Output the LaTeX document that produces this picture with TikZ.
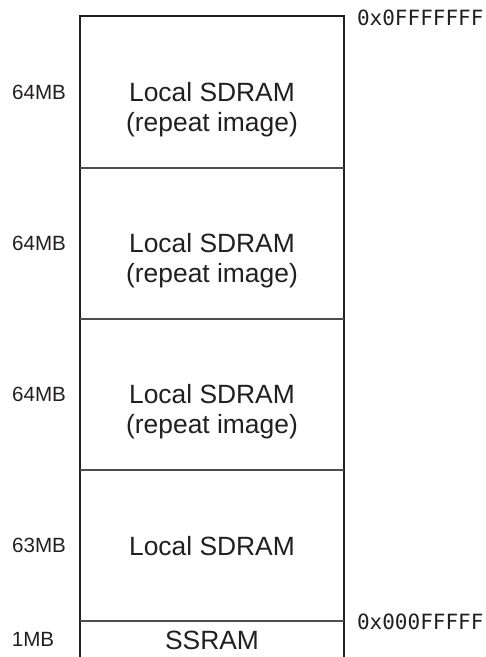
\documentclass[tikz,border=0pt]{standalone}
\usepackage{fontspec}
\setmainfont{Liberation Sans}
\newfontfamily\addrfont{DejaVu Sans Mono}
\definecolor{inkgray}{RGB}{35,31,32}
\usepackage{tikz}

\begin{document}
\begin{tikzpicture}[x=0.5pt, y=-0.5pt, inkgray,
    frame/.style={line width=1pt},
    divider/.style={line width=0.6pt, inkgray!80},
    region/.style={align=center, font=\fontsize{13.2}{15}\selectfont},
    sizelbl/.style={font=\fontsize{10.3}{12}\selectfont},
    addr/.style={anchor=west, font=\addrfont\fontsize{10.5}{12}\selectfont}]
          \useasboundingbox (0,0) rectangle (486,657);
          % outer frame, open at the bottom
          \draw[frame] (80,657) -- (80,16) -- (344,16) -- (344,657);
          \foreach \y in {168,319,470,621}
            \draw[divider] (80,\y) -- (344,\y);
          % region texts
          \node[region] (sd1) at (212,110) {Local SDRAM\\(repeat image)};
          \node[region] (sd2) at (212,261) {Local SDRAM\\(repeat image)};
          \node[region] (sd3) at (212,412) {Local SDRAM\\(repeat image)};
          \node[region] (sd4) at (212,546) {Local SDRAM};
          \node[region] (ss) at (212,640) {SSRAM};
          % sizes
          \node[sizelbl] (mb1) at (39,92) {64MB};
          \node[sizelbl] (mb2) at (39,243) {64MB};
          \node[sizelbl] (mb3) at (39,394) {64MB};
          \node[sizelbl] (mb4) at (39,545) {63MB};
          \node[sizelbl] (mb5) at (33,639) {1MB};
          % addresses
          \node[addr] (top) at (350,18) {0x0FFFFFFF};
          \node[addr] (low) at (350,622) {0x000FFFFF};
        \end{tikzpicture}
\end{document}
